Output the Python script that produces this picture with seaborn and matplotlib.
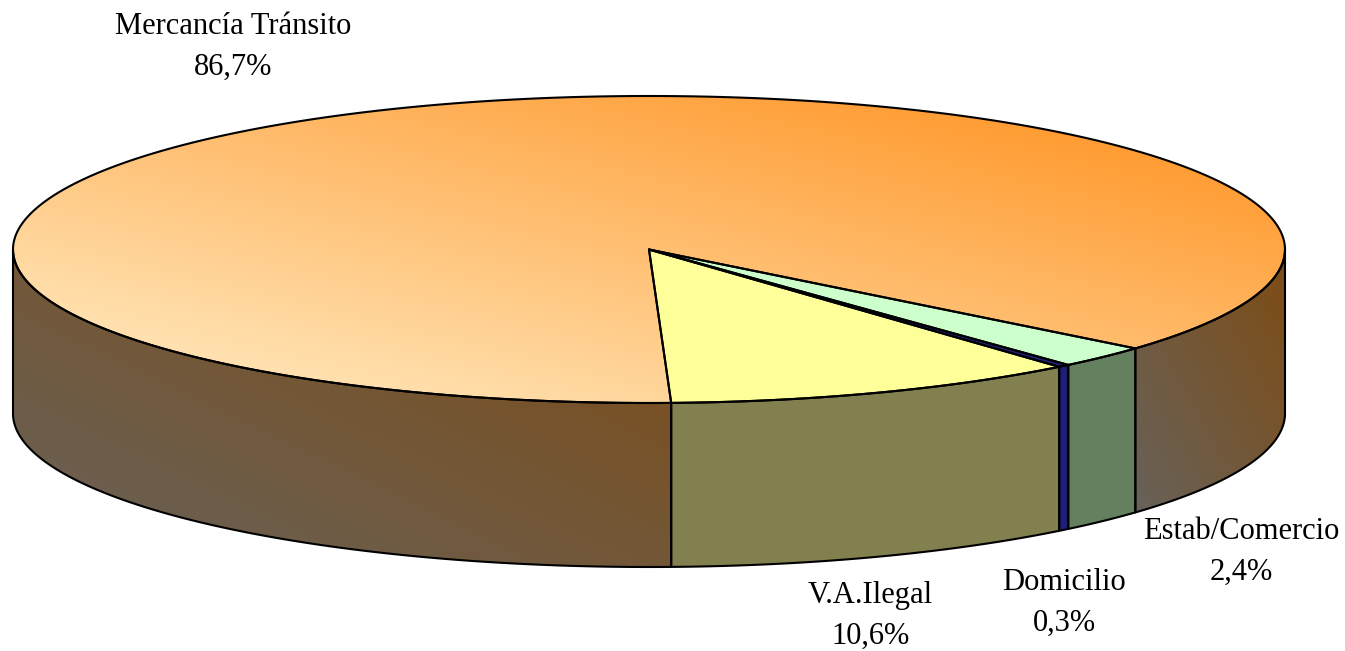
import numpy as np
import matplotlib
matplotlib.use("Agg")
import matplotlib.pyplot as plt
from matplotlib.patches import Polygon
import seaborn as sns

categories = ["V.A.Ilegal", "Domicilio", "Estab/Comercio", "Mercancía Tránsito"]
shares = [10.6, 0.3, 2.4, 86.7]
top_colors = ["#FFFF99", "#1F1F78", "#CCFFCC", None]
wall_colors = ["#83804F", "#1F1F78", "#65805F", None]

# pixel layout of the drawing
cx, cy, rx, ry = 649, 249.5, 636, 153.5
depth = 164
start = -88
label_pos = [(870, 616), (1064, 603), (1241, 552), (233, 47)]

sns.set_theme(style="white")
plt.rcParams["font.family"] = ["Liberation Serif", "DejaVu Serif"]

top_cmap = sns.blend_palette(["#FFE0AE", "#FF9628"], as_cmap=True)
wall_cmap = sns.blend_palette(["#68625A", "#7E4C14"], as_cmap=True)


def rim(a, b, dy=0):
    t = np.radians(np.linspace(a, b, max(int(abs(b - a) * 4), 2)))
    return np.column_stack([cx + rx * np.cos(t), cy - ry * np.sin(t) + dy])


def gradient(ax, poly, box, cmap, z, lo=0.0, hi=1.0):
    # diagonal fill over the bounding box, bottom left to top right
    x0, y0 = box.min(axis=0)
    x1, y1 = box.max(axis=0)
    xx, yy = np.meshgrid(np.linspace(0, 1, 400), np.linspace(0, 1, 400))
    u = ((xx + (1 - yy)) / 2 - lo) / (hi - lo)
    im = ax.imshow(u, cmap=cmap, vmin=0, vmax=1, extent=(x0, x1, y1, y0),
                   aspect="auto", zorder=z, interpolation="bilinear")
    patch = Polygon(poly, closed=True, transform=ax.transData, fill=False, edgecolor="none")
    ax.add_patch(patch)
    im.set_clip_path(patch)


def outline(ax, poly, z):
    ax.add_patch(Polygon(poly, closed=True, fill=False, edgecolor="black", linewidth=1.5,
                         joinstyle="round", zorder=z))


fig = plt.figure(figsize=(13.45, 6.51), dpi=100)
ax = fig.add_axes([0, 0, 1, 1])

angles = start + np.cumsum([0] + shares) * 3.6
centre = np.array([[cx, cy]])

# side walls, only the part facing the viewer
for i in range(len(shares)):
    a, b = angles[i], angles[i + 1]
    spans = [(a, min(b, 0))] if a < 0 else []
    if b > 180:
        spans.append((max(a, 180), b))
    for s, e in spans:
        if e <= s:
            continue
        poly = np.vstack([rim(s, e), rim(e, s, depth)])
        if wall_colors[i] is None:
            gradient(ax, poly, poly, wall_cmap, 1)
        else:
            ax.add_patch(Polygon(poly, closed=True, facecolor=wall_colors[i], edgecolor="none", zorder=1))
        outline(ax, poly, 3)

# top face
for i in range(len(shares)):
    poly = np.vstack([centre, rim(angles[i], angles[i + 1])])
    if top_colors[i] is None:
        gradient(ax, poly, rim(0, 360), top_cmap, 2, 0.16, 0.92)
    else:
        ax.add_patch(Polygon(poly, closed=True, facecolor=top_colors[i], edgecolor="none", zorder=2))
    outline(ax, poly, 4)

for name, share, (x, y) in zip(categories, shares, label_pos):
    txt = f"{share:.1f}".replace(".", ",") + "%"
    ax.text(x, y, f"{name}\n{txt}", ha="center", va="center", fontsize=22, color="black",
            linespacing=1.55, zorder=5)

ax.set_xlim(0, 1345)
ax.set_ylim(651, 0)
ax.axis("off")
fig.savefig("out.png", dpi=100, facecolor="white")
